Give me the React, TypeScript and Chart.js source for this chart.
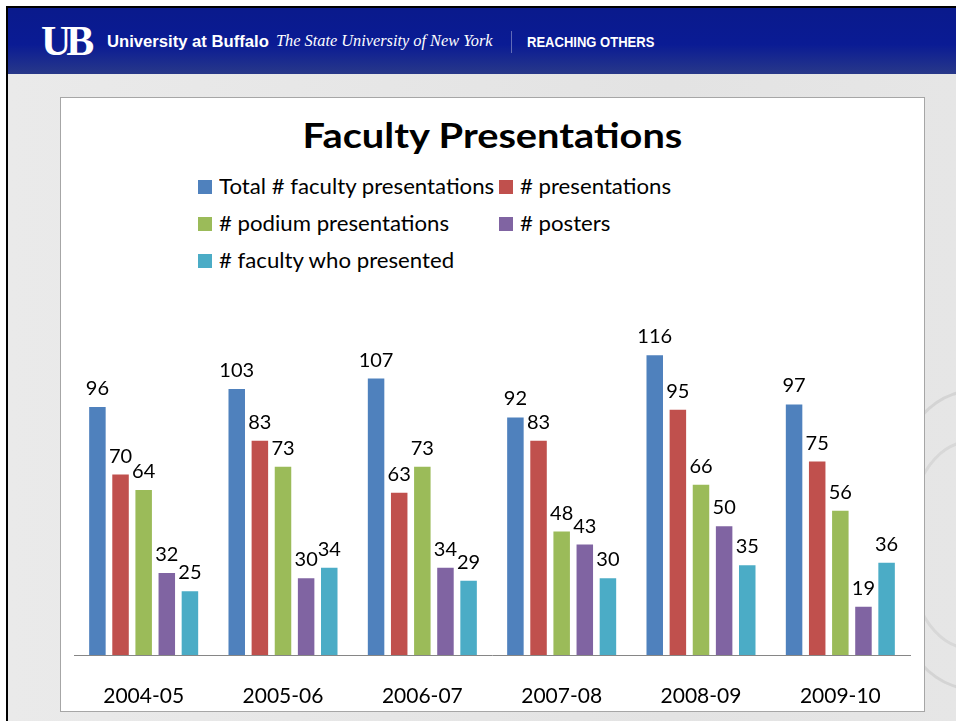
import React, { useEffect, useRef } from "react";
import { Chart, registerables } from "chart.js";

Chart.register(...registerables);

const categories = ["2004-05", "2005-06", "2006-07", "2007-08", "2008-09", "2009-10"];
const seriesNames = [
  "Total # faculty presentations",
  "# presentations",
  "# podium presentations",
  "# posters",
  "# faculty who presented",
];
const totalPresentations = [96, 103, 107, 92, 116, 97];
const presentations = [70, 83, 63, 83, 95, 75];
const podiumPresentations = [64, 73, 73, 48, 66, 56];
const posters = [32, 30, 34, 43, 50, 19];
const facultyWhoPresented = [25, 34, 29, 30, 35, 36];
const seriesColors = ["#4F81BD", "#C0504D", "#9BBB59", "#8064A2", "#4BACC6"];
const yMin = 0;
const yMax = 140;

const seriesValues = [totalPresentations, presentations, podiumPresentations, posters, facultyWhoPresented];

const barLabelPlugin = {
  id: "barLabels",
  afterDatasetsDraw(chart: any) {
    const ctx = chart.ctx;
    ctx.save();
    ctx.font = "20px Lato";
    ctx.fillStyle = "#000";
    ctx.textAlign = "center";
    ctx.textBaseline = "alphabetic";
    chart.data.datasets.forEach((ds: any, i: number) => {
      const meta = chart.getDatasetMeta(i);
      meta.data.forEach((bar: any, j: number) => {
        ctx.fillText(String(ds.data[j]), bar.x, bar.y - 11);
      });
    });
    ctx.restore();
  },
};

function BarChart() {
  const ref = useRef<HTMLCanvasElement | null>(null);
  useEffect(() => {
    if (!ref.current) return;
    const chart = new Chart(ref.current, {
      type: "bar",
      data: {
        labels: categories,
        datasets: seriesNames.map((name, i) => ({
          label: name,
          data: seriesValues[i],
          backgroundColor: seriesColors[i],
          borderColor: "rgba(255,255,255,0.35)",
          borderWidth: 1,
          categoryPercentage: 0.83,
          barPercentage: 0.8,
        })),
      },
      options: {
        animation: false,
        responsive: false,
        layout: { padding: { left: 13, right: 13, top: 22, bottom: 0 } },
        plugins: {
          legend: { display: false },
          title: { display: false },
          tooltip: { enabled: false },
        },
        scales: {
          x: {
            grid: { display: false },
            border: { display: true, color: "#868686", width: 1 },
            ticks: {
              color: "#000",
              font: { family: "Lato", size: 21 },
              padding: 21,
              maxRotation: 0,
            },
            afterFit: (s: any) => {
              s.height = 55;
            },
          },
          y: { display: false, min: yMin, max: yMax },
        },
      },
      plugins: [barLabelPlugin],
    } as any);
    return () => chart.destroy();
  }, []);
  return <canvas ref={ref} width={862} height={440} style={{ display: "block" }} />;
}

export default function App() {
  return (
    <div
      style={{
        position: "absolute",
        left: 0,
        top: 0,
        width: 956,
        height: 721,
        background: "#fff",
        overflow: "hidden",
        fontFamily: "Lato",
      }}
    >
      {/* frame + gray slide background */}
      <div
        style={{
          position: "absolute",
          left: 6,
          top: 6,
          width: 950,
          height: 715,
          borderLeft: "2px solid #000",
          borderTop: "2px solid #000",
          boxSizing: "border-box",
          background: "linear-gradient(90deg,#eaeaea 0%,#e3e3e3 70%,#e6e6e6 100%)",
        }}
      />
      {/* faint seal watermark on the right */}
      <div
        style={{
          position: "absolute",
          left: 880,
          top: 390,
          width: 180,
          height: 300,
          borderRadius: "50%",
          border: "3px solid rgba(160,160,160,0.25)",
          boxSizing: "border-box",
        }}
      />
      <div
        style={{
          position: "absolute",
          left: 905,
          top: 440,
          width: 130,
          height: 210,
          borderRadius: "50%",
          border: "3px solid rgba(160,160,160,0.2)",
          boxSizing: "border-box",
        }}
      />
      {/* header bar */}
      <div
        style={{
          position: "absolute",
          left: 8,
          top: 8,
          width: 948,
          height: 66,
          background: "linear-gradient(180deg,#0a1a8c 0%,#0a1b94 55%,#283889 100%)",
        }}
      />
      <div
        style={{
          position: "absolute",
          left: 41,
          top: 19,
          color: "#fff",
          fontFamily: "'Liberation Serif'",
          fontWeight: 700,
          fontSize: 42,
          lineHeight: "44px",
          letterSpacing: -5,
        }}
      >
        UB
      </div>
      <div
        style={{
          position: "absolute",
          left: 107,
          top: 32,
          color: "#fff",
          fontFamily: "'Liberation Sans'",
          fontWeight: 700,
          fontSize: 16,
          lineHeight: "20px",
          whiteSpace: "nowrap",
          transform: "scaleX(1.04)",
          transformOrigin: "left center",
        }}
      >
        University at Buffalo
      </div>
      <div
        style={{
          position: "absolute",
          left: 276,
          top: 31,
          color: "#fff",
          fontFamily: "'Liberation Serif'",
          fontStyle: "italic",
          fontSize: 16,
          lineHeight: "20px",
          whiteSpace: "nowrap",
          transform: "scaleX(1.02)",
          transformOrigin: "left center",
        }}
      >
        The State University of New York
      </div>
      <div
        style={{
          position: "absolute",
          left: 511,
          top: 31,
          width: 1,
          height: 22,
          background: "rgba(255,255,255,0.35)",
        }}
      />
      <div
        style={{
          position: "absolute",
          left: 527,
          top: 32,
          color: "#fff",
          fontFamily: "'Liberation Sans'",
          fontWeight: 700,
          fontSize: 14,
          lineHeight: "20px",
          whiteSpace: "nowrap",
          transform: "scaleX(0.93)",
          transformOrigin: "left center",
        }}
      >
        REACHING OTHERS
      </div>
      {/* white chart panel */}
      <div
        style={{
          position: "absolute",
          left: 60,
          top: 97,
          width: 865,
          height: 615,
          background: "#fff",
          border: "1px solid #a6a6a6",
          boxSizing: "border-box",
        }}
      />
      <div
        style={{
          position: "absolute",
          left: 60,
          top: 115,
          width: 865,
          textAlign: "center",
          fontFamily: "Lato",
          fontWeight: 700,
          fontSize: 34,
          lineHeight: "40px",
          color: "#000",
          transform: "scaleX(1.17)",
          transformOrigin: "center center",
        }}
      >
        Faculty Presentations
      </div>
      {/* legend */}
      {seriesNames.map((name, i) => {
        const col = i % 2;
        const row = Math.floor(i / 2);
        return (
          <div
            key={name}
            style={{
              position: "absolute",
              left: col === 0 ? 198 : 499,
              top: 174 + row * 37,
              height: 24,
              whiteSpace: "nowrap",
              fontFamily: "Lato",
              fontSize: 21,
              lineHeight: "24px",
              color: "#000",
            }}
          >
            <span
              style={{
                position: "absolute",
                left: 0,
                top: 6,
                width: 14,
                height: 14,
                background: seriesColors[i],
              }}
            />
            <span
              style={{
                position: "absolute",
                left: 21,
                top: 0,
                transform: "scaleX(1.057)",
                transformOrigin: "left center",
              }}
            >
              {name}
            </span>
          </div>
        );
      })}
      <div style={{ position: "absolute", left: 61, top: 270, width: 862, height: 440 }}>
        <BarChart />
      </div>
    </div>
  );
}
